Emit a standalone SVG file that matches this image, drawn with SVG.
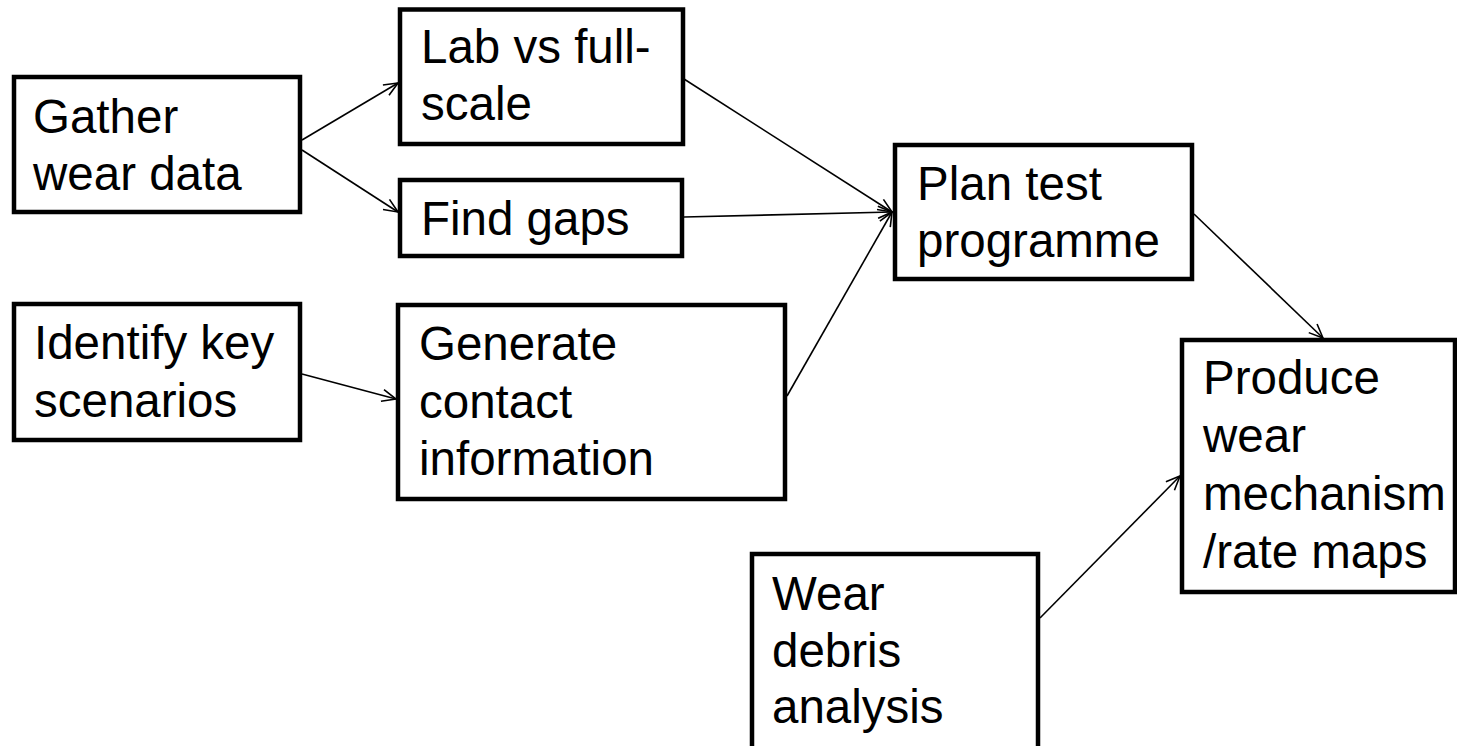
<svg xmlns="http://www.w3.org/2000/svg" width="1457" height="746" viewBox="0 0 1457 746">
<defs>
<style>
.box{fill:#fff;stroke:#000;stroke-width:4.5;stroke-linejoin:miter}
.lbl{font-family:"Liberation Sans",Arial,sans-serif;font-size:47.5px;fill:#000}
.con{stroke:#000;stroke-width:1.6;fill:none;marker-end:url(#arr)}
</style>
<marker id="arr" markerUnits="userSpaceOnUse" markerWidth="16" markerHeight="14" viewBox="0 0 16 14" refX="15" refY="7" orient="auto">
<path d="M1,1 L15,7 L1,13" fill="none" stroke="#000" stroke-width="1.6"/>
</marker>
</defs>
<rect width="1457" height="746" fill="#fff"/>
<g id="connectors">
<line class="con" x1="302" y1="140" x2="398" y2="83"/>
<line class="con" x1="302" y1="150" x2="398" y2="212"/>
<line class="con" x1="684" y1="79" x2="892" y2="212"/>
<line class="con" x1="684" y1="217" x2="892" y2="212"/>
<line class="con" x1="787" y1="396" x2="892" y2="212"/>
<line class="con" x1="302" y1="374" x2="396" y2="399"/>
<line class="con" x1="1194" y1="214" x2="1323" y2="338"/>
<line class="con" x1="1040" y1="618" x2="1180" y2="476"/>
</g>
<g id="gather">
<rect class="box" x="14" y="77" width="286" height="135"/>
<text class="lbl"><tspan x="33" y="133">Gather</tspan><tspan x="33" y="190">wear data</tspan></text>
</g>
<g id="lab">
<rect class="box" x="400" y="9.5" width="283" height="134.5"/>
<text class="lbl"><tspan x="421" y="63">Lab vs full-</tspan><tspan x="421" y="120">scale</tspan></text>
</g>
<g id="gaps">
<rect class="box" x="400" y="180" width="282" height="76"/>
<text class="lbl" x="421" y="235">Find gaps</text>
</g>
<g id="identify">
<rect class="box" x="14" y="304" width="286" height="136"/>
<text class="lbl"><tspan x="34" y="359">Identify key</tspan><tspan x="34" y="417">scenarios</tspan></text>
</g>
<g id="generate">
<rect class="box" x="398" y="305" width="387" height="194"/>
<text class="lbl"><tspan x="419" y="360">Generate</tspan><tspan x="419" y="418">contact</tspan><tspan x="419" y="475">information</tspan></text>
</g>
<g id="plan">
<rect class="box" x="895" y="145" width="297" height="134"/>
<text class="lbl"><tspan x="917" y="200">Plan test</tspan><tspan x="917" y="257">programme</tspan></text>
</g>
<g id="produce">
<rect class="box" x="1182" y="340" width="273" height="252"/>
<text class="lbl"><tspan x="1203" y="394">Produce</tspan><tspan x="1203" y="452">wear</tspan><tspan x="1203" y="510">mechanism</tspan><tspan x="1203" y="568">/rate maps</tspan></text>
</g>
<g id="debris">
<rect class="box" x="752" y="554" width="286" height="220"/>
<text class="lbl"><tspan x="772" y="610">Wear</tspan><tspan x="772" y="667">debris</tspan><tspan x="772" y="723">analysis</tspan></text>
</g>
</svg>
